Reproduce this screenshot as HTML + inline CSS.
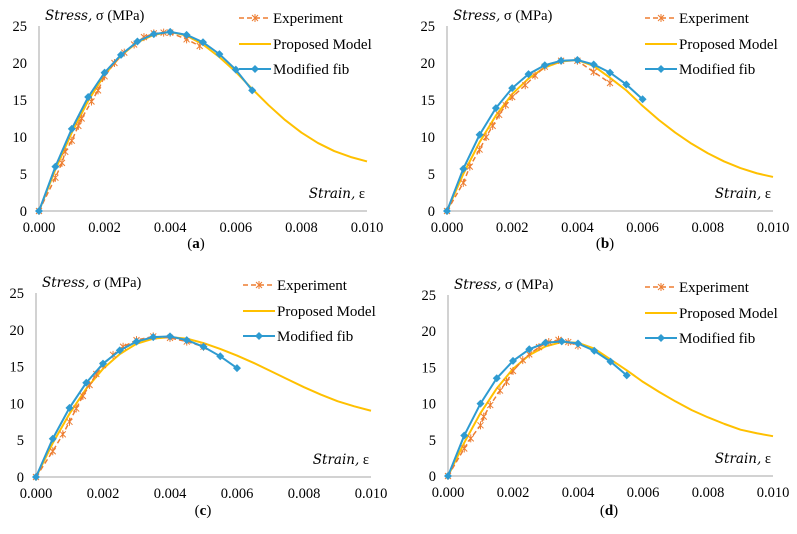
<!DOCTYPE html>
<html><head><meta charset="utf-8">
<style>
body{margin:0;background:#fff;}
svg{display:block;font-family:"Liberation Serif",serif;}
</style></head>
<body>
<svg id="chart" width="797" height="534" viewBox="0 0 797 534" xmlns="http://www.w3.org/2000/svg"></svg>
<script>
// Panel data (strain, stress MPa)
const tickX = ["0.000","0.002","0.004","0.006","0.008","0.010"];
const tickY = ["0","5","10","15","20","25"];
const panelIds = ["a","b","c","d"];
const modelStrain = [0,0.0005,0.001,0.0015,0.002,0.0025,0.003,0.0035,0.004,0.0045,0.005,0.0055,0.006,0.0065,0.007,0.0075,0.008,0.0085,0.009,0.0095,0.01];
const modelA = [0,5.6,10.6,14.9,18.4,21,22.8,23.8,24.2,23.7,22.5,20.8,18.8,16.5,14.3,12.3,10.6,9.2,8.1,7.3,6.7];
const modelB = [0,5,9.3,12.9,15.8,17.9,19.4,20.2,20.4,19.6,18.0,16.3,14.2,12.3,10.6,9.1,7.8,6.7,5.8,5.1,4.6];
const modelC = [0,4.6,8.6,12,14.7,16.7,18.1,18.8,19,18.8,18.2,17.4,16.5,15.5,14.4,13.3,12.2,11.2,10.3,9.6,9.0];
const modelD = [0,4.6,8.7,12.1,14.8,16.7,17.9,18.5,18.4,17.6,16.1,14.6,13,11.6,10.3,9.1,8.1,7.2,6.4,5.9,5.5];
const fibStrain = [0,0.0005,0.001,0.0015,0.002,0.0025,0.003,0.0035,0.004,0.0045,0.005,0.0055,0.006,0.0065];
const fibA = [0,6,11.1,15.4,18.7,21.1,22.9,23.9,24.2,23.8,22.8,21.2,19.1,16.3];
const fibB = [0,5.7,10.3,13.9,16.6,18.5,19.7,20.3,20.4,19.8,18.7,17.1,15.1];
const fibC = [0,5.2,9.4,12.8,15.4,17.2,18.4,19,19.1,18.6,17.7,16.4,14.8];
const fibD = [0,5.6,10,13.5,15.9,17.5,18.4,18.6,18.3,17.3,15.8,13.9];
const expStrainA = [0,0.0005,0.0007,0.0008,0.001,0.0012,0.0013,0.0016,0.0018,0.002,0.0023,0.0026,0.0029,0.0032,0.0035,0.0038,0.004,0.0045,0.0049];
const expA = [0,4.5,6.5,8,9.5,11.5,12.5,14.8,16.3,18.2,20.0,21.4,22.5,23.5,24,24.1,24.1,23.2,22.3];
const expStrainB = [0,0.0005,0.0007,0.001,0.0012,0.0014,0.0016,0.0018,0.002,0.0024,0.0027,0.003,0.0035,0.004,0.0045,0.005];
const expB = [0,3.8,6,8.3,10,11.5,13,14.3,15.4,17,18.3,19.5,20.3,20.3,18.8,17.3];
const expStrainC = [0,0.0005,0.0008,0.001,0.0012,0.0014,0.0016,0.0018,0.002,0.0023,0.0026,0.003,0.0035,0.004,0.0045,0.005];
const expC = [0,3.5,5.8,7.5,9.3,11,12.5,14,15.2,16.6,17.7,18.6,19.1,18.9,18.4,17.7];
const expStrainD = [0,0.0005,0.0007,0.001,0.0011,0.0013,0.0016,0.0018,0.002,0.0023,0.0025,0.0028,0.0031,0.0034,0.0037,0.004];
const expD = [0,3.8,5.2,7,8.2,9.8,11.8,13,14.5,16,16.8,17.8,18.5,18.8,18.5,18];

const panels = [
 {id:"a", x0:39, x1:367, y0:211, y25:26, model:modelA, fib:fibA, es:expStrainA, e:expA, cap:[196,243]},
 {id:"b", x0:447, x1:773, y0:211, y25:26, model:modelB, fib:fibB, es:expStrainB, e:expB, cap:[605,243]},
 {id:"c", x0:36, x1:371, y0:477, y25:293, model:modelC, fib:fibC, es:expStrainC, e:expC, cap:[203,510]},
 {id:"d", x0:448, x1:773, y0:476, y25:295, model:modelD, fib:fibD, es:expStrainD, e:expD, cap:[609,510]}
];
const NS="http://www.w3.org/2000/svg";
const svg=document.getElementById('chart');
function mk(tag,attrs,parent,txt){const e=document.createElementNS(NS,tag);for(const k in attrs)e.setAttribute(k,attrs[k]);if(txt!==undefined)e.textContent=txt;(parent||svg).appendChild(e);return e;}
panels.forEach(p=>{
 const g=mk('g',{});
 
 
 const sx=v=>p.x0+(p.x1-p.x0)*v/0.01;
 const sy=v=>p.y0-(p.y0-p.y25)*v/25;
 const ax=mk('line',{x1:p.x0,y1:p.y0,x2:p.x1,y2:p.y0,stroke:'#a6a6a6','stroke-width':1},g);
 
 
 const ay=mk('line',{x1:p.x0,y1:p.y0,x2:p.x0,y2:p.y25,stroke:'#a6a6a6','stroke-width':1},g);
 
 
 tickX.forEach((t,i)=>{const e=mk('text',{x:sx(i*0.002),y:p.y0+21,'text-anchor':'middle','font-size':14.5,fill:'#000'},g,t);
  
  });
 tickY.forEach((t,i)=>{const e=mk('text',{x:p.x0-12,y:sy(i*5)+5,'text-anchor':'end','font-size':14.5,fill:'#000'},g,t);
  
  });
 const yt=mk('text',{x:p.x0+6,y:p.y25-6,'font-size':14.5,fill:'#000'},g);
 
 
 mk('tspan',{'font-style':'italic','font-family':'"DejaVu Serif",serif','font-size':13.5},yt,'Stress,');
 mk('tspan',{},yt,' σ (MPa)');
 const xt=mk('text',{x:p.x1-2,y:p.y0-13,'text-anchor':'end','font-size':14.5,fill:'#000'},g);
 
 
 mk('tspan',{'font-style':'italic','font-family':'"DejaVu Serif",serif','font-size':13.5},xt,'Strain,');
 mk('tspan',{},xt,' ε');
 const mp=p.model.map((v,i)=>sx(modelStrain[i])+','+sy(v)).join(' ');
 const ml=mk('polyline',{points:mp,fill:'none',stroke:'#ffc000','stroke-width':2,'stroke-linejoin':'round'},g);
 
 
 const ep=p.e.map((v,i)=>sx(p.es[i])+','+sy(v)).join(' ');
 const el=mk('polyline',{points:ep,fill:'none',stroke:'#ed7d31','stroke-width':1.5,'stroke-dasharray':'5,3'},g);
 
 
 p.e.forEach((v,i)=>{const cx=sx(p.es[i]),cy=sy(v);
  const m=mk('path',{d:`M${cx-3},${cy-3}L${cx+3},${cy+3}M${cx-3},${cy+3}L${cx+3},${cy-3}M${cx},${cy-4}L${cx},${cy+4}`,stroke:'#ed7d31','stroke-width':1},g);
  
  });
 const fp=p.fib.map((v,i)=>sx(fibStrain[i])+','+sy(v)).join(' ');
 const fl=mk('polyline',{points:fp,fill:'none',stroke:'#2e9bd1','stroke-width':2},g);
 
 
 p.fib.forEach((v,i)=>{const cx=sx(fibStrain[i]),cy=sy(v);
  const m=mk('path',{d:`M${cx},${cy-4}L${cx+4},${cy}L${cx},${cy+4}L${cx-4},${cy}Z`,fill:'#2e9bd1'},g);
  
  });
 const lx=p.x1-128, ly=p.y25-8;
 const lg=mk('g',{},g);
 
 
 mk('line',{x1:lx,y1:ly,x2:lx+32,y2:ly,stroke:'#ed7d31','stroke-width':1.5,'stroke-dasharray':'5,3'},lg);
 const c=lx+16;
 mk('path',{d:`M${c-3},${ly-3}L${c+3},${ly+3}M${c-3},${ly+3}L${c+3},${ly-3}M${c},${ly-4}L${c},${ly+4}`,stroke:'#ed7d31','stroke-width':1},lg);
 mk('text',{x:lx+34,y:ly+5,'font-size':15},lg,'Experiment');
 mk('line',{x1:lx,y1:ly+26,x2:lx+32,y2:ly+26,stroke:'#ffc000','stroke-width':2},lg);
 mk('text',{x:lx+34,y:ly+31,'font-size':15},lg,'Proposed Model');
 mk('line',{x1:lx,y1:ly+51,x2:lx+32,y2:ly+51,stroke:'#2e9bd1','stroke-width':2},lg);
 mk('path',{d:`M${c},${ly+47}L${c+4},${ly+51}L${c},${ly+55}L${c-4},${ly+51}Z`,fill:'#2e9bd1'},lg);
 mk('text',{x:lx+34,y:ly+56,'font-size':15},lg,'Modified fib');
 const cap=mk('text',{x:p.cap[0],y:p.cap[1]+5,'text-anchor':'middle','font-size':15},g);
 
 
 mk('tspan',{},cap,'(');
 mk('tspan',{'font-weight':'bold'},cap,p.id);
 mk('tspan',{},cap,')');
});
</script>
</body></html>
